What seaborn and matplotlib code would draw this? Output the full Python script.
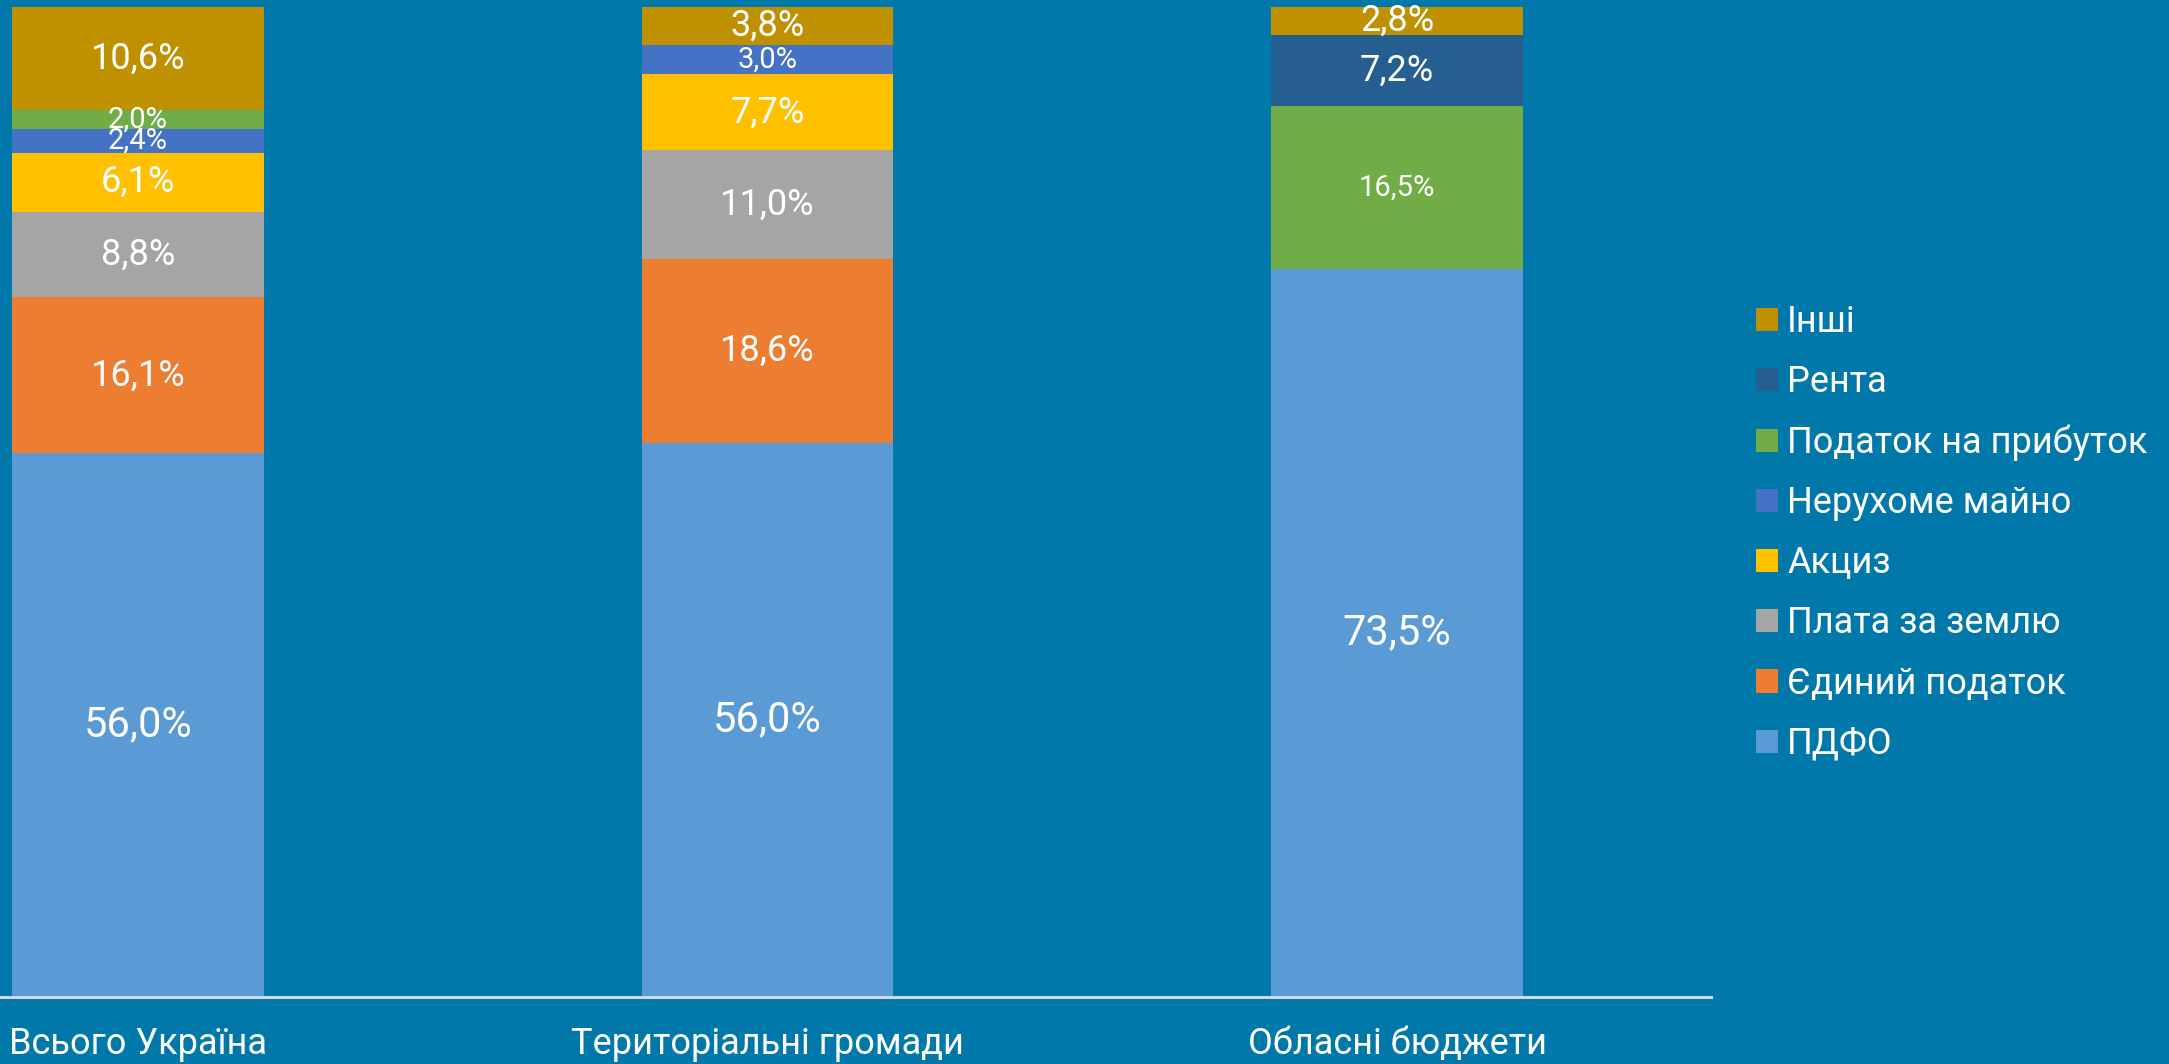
import numpy as np
import pandas as pd
import matplotlib
matplotlib.use("Agg")
import matplotlib.pyplot as plt
import seaborn as sns
from matplotlib.patches import Patch

# ---- data ----
categories = ["Всього Україна", "Територіальні громади", "Обласні бюджети"]
series_names = ["ПДФО", "Єдиний податок", "Плата за землю", "Акциз",
                "Нерухоме майно", "Податок на прибуток", "Рента", "Інші"]
pdfo = [56.0, 56.0, 73.5]
yedynyi = [16.1, 18.6, 0.0]
plata_zemlia = [8.8, 11.0, 0.0]
akcyz = [6.1, 7.7, 0.0]
nerukhome = [2.4, 3.0, 0.0]
prybutok = [2.0, 0.0, 16.5]
renta = [0.0, 0.0, 7.2]
inshi = [10.6, 3.8, 2.8]

series_values = [pdfo, yedynyi, plata_zemlia, akcyz, nerukhome, prybutok, renta, inshi]
colors = ["#5B9BD5", "#ED7D31", "#A5A5A5", "#FFC000",
          "#4472C4", "#70AD47", "#255E91", "#BF9000"]
label_sizes = [30, 26, 26, 26, 21, 21, 26, 26]

BG = "#0078AA"

plt.rcParams['font.family'] = ['Roboto', 'DejaVu Sans']

W, H = 2169, 1064
fig = plt.figure(figsize=(W / 100, H / 100), dpi=100, facecolor=BG)
ax = fig.add_axes([0, (H - 997) / H, 1711 / W, (997 - 7) / H])
ax.set_facecolor(BG)

vals = np.array(series_values, dtype=float)  # shape (series, categories)
totals = vals.sum(axis=0)
pct = vals / totals * 100.0
cum = np.cumsum(pct, axis=0)

# draw layered cumulative bars from top series down (stacked appearance)
for i in range(len(series_names) - 1, -1, -1):
    df = pd.DataFrame({"cat": categories, "val": cum[i]})
    sns.barplot(data=df, x="cat", y="val", color=colors[i], saturation=1,
                width=0.4, linewidth=0, ax=ax, order=categories)

# value labels
for i, name in enumerate(series_names):
    for j in range(len(categories)):
        v = vals[i, j]
        if v <= 0:
            continue
        y0 = cum[i, j] - pct[i, j]
        yc = y0 + pct[i, j] / 2
        ax.text(j, yc, f"{v:.1f}%".replace(".", ","), ha="center", va="center",
                color="white", fontsize=label_sizes[i])

ax.set_ylim(0, 100)
ax.set_xlim(-138 / 629.5, (1711 - 138) / 629.5)
ax.set_xlabel("")
ax.set_ylabel("")
ax.set_yticks([])
ax.tick_params(axis="x", length=0, pad=21, labelsize=26, labelcolor="white")
for s in ["top", "right", "left"]:
    ax.spines[s].set_visible(False)
ax.spines["bottom"].set_color("#D0D8DC")
ax.spines["bottom"].set_linewidth(2.2)

handles = [Patch(facecolor=colors[i], edgecolor="none", label=series_names[i])
           for i in range(len(series_names) - 1, -1, -1)]
leg = fig.legend(handles=handles, loc="upper left",
                 bbox_to_anchor=(1756 / W, 1 - 304 / H), frameon=False,
                 fontsize=26, handlelength=0.61, handleheight=0.61,
                 handletextpad=0.25, labelspacing=0.67, borderpad=0,
                 borderaxespad=0)
for t in leg.get_texts():
    t.set_color("white")

fig.savefig("out.png", dpi=100, facecolor=BG)
